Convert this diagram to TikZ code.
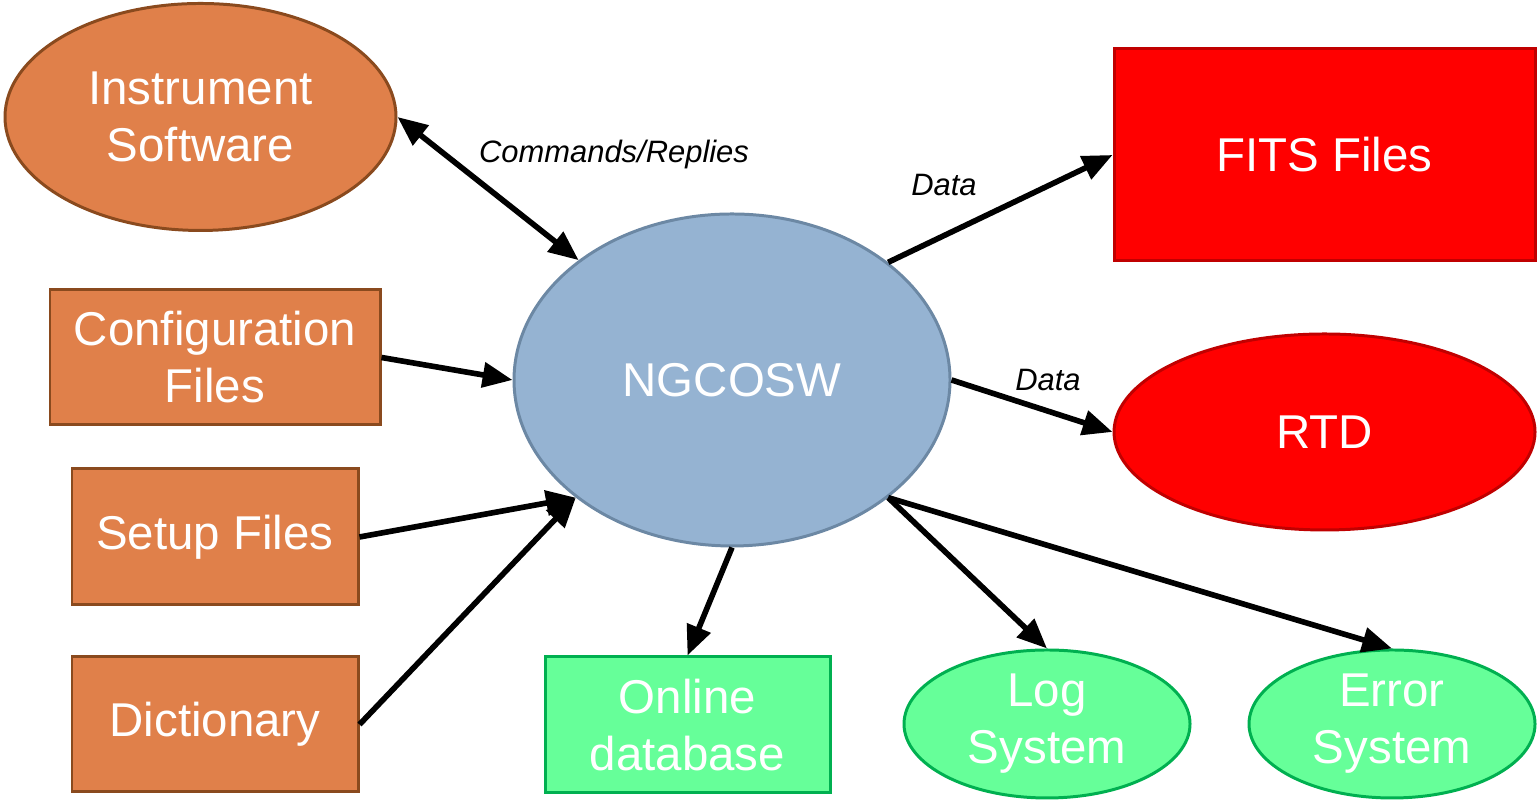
\documentclass[tikz,border=0pt]{standalone}
\usepackage{fontspec}
\setmainfont{Liberation Sans}
\usepackage{tikz}
\usetikzlibrary{arrows.meta}
\usetikzlibrary{shapes.geometric}

\definecolor{orangefill}{HTML}{E0804A}
\definecolor{orangeline}{HTML}{8A4A1E}
\definecolor{bluefill}{HTML}{95B3D2}
\definecolor{blueline}{HTML}{6C88A4}
\definecolor{redfill}{HTML}{FF0000}
\definecolor{redline}{HTML}{C00000}
\definecolor{greenfill}{HTML}{66FF99}
\definecolor{greenline}{HTML}{00B050}

\tikzset{
  box/.style={draw, line width=0.85pt, inner sep=0pt, align=center, text=white,
    font=\fontsize{13.5}{16.2}\selectfont},
  oval/.style={box, ellipse},
  flow/.style={line width=1.6pt, -{Triangle[length=8.5pt,width=7pt]}},
  flowlabel/.style={font=\fontsize{8.8}{10}\selectfont\itshape}
}

\begin{document}
\begin{tikzpicture}
\useasboundingbox (0,0) rectangle (15.37,8.01);

% sources on the left
\node[oval, fill=orangefill, draw=orangeline, minimum width=3.91cm, minimum height=2.27cm]
  (inst) at (2.005,6.84) {Instrument\\Software};
\node[box, fill=orangefill, draw=orangeline, minimum width=3.30cm, minimum height=1.35cm]
  (conf) at (2.15,4.435) {Configuration\\Files};
\node[box, fill=orangefill, draw=orangeline, minimum width=2.86cm, minimum height=1.36cm]
  (setup) at (2.15,2.64) {Setup Files};
\node[box, fill=orangefill, draw=orangeline, minimum width=2.86cm, minimum height=1.35cm]
  (dict) at (2.15,0.765) {Dictionary};

% central process
\node[oval, fill=bluefill, draw=blueline, minimum width=4.36cm, minimum height=3.32cm]
  (ngc) at (7.32,4.21) {NGCOSW};

% outputs
\node[box, fill=redfill, draw=redline, minimum width=4.21cm, minimum height=2.12cm]
  (fits) at (13.245,6.46) {FITS Files};
\node[oval, fill=redfill, draw=redline, minimum width=4.21cm, minimum height=1.96cm]
  (rtd) at (13.245,3.69) {RTD};
\node[box, fill=greenfill, draw=greenline, minimum width=2.85cm, minimum height=1.36cm]
  (db) at (6.875,0.76) {Online\\database};
\node[oval, fill=greenfill, draw=greenline, minimum width=2.86cm, minimum height=1.48cm]
  (log) at (10.47,0.77) {Log\\System};
\node[oval, fill=greenfill, draw=greenline, minimum width=2.86cm, minimum height=1.48cm]
  (err) at (13.92,0.77) {Error\\System};

% connectors
\draw[flow, {Triangle[length=8.5pt,width=7pt]}-{Triangle[length=8.5pt,width=7pt]}] (inst.east) -- (ngc.142.5);
\draw[flow] (conf.east) -- (ngc.west);
\draw[flow] (setup.east) -- (ngc.217);
\draw[flow] (dict.east) -- (ngc.217);
\draw[flow] (ngc.37) -- (fits.west);
\draw[flow] (ngc.east) -- (rtd.west);
\draw[flow] (ngc.south) -- (db.north);
\draw[flow] (ngc.323) -- (log.north);
\draw[flow] (ngc.323) -- (err.north);

% labels
\node[flowlabel] (cmdlabel) at (6.14,6.46) {Commands/Replies};
\node[flowlabel] (fitslabel) at (9.44,6.16) {Data};
\node[flowlabel] (rtdlabel) at (10.48,4.21) {Data};
\end{tikzpicture}
\end{document}
